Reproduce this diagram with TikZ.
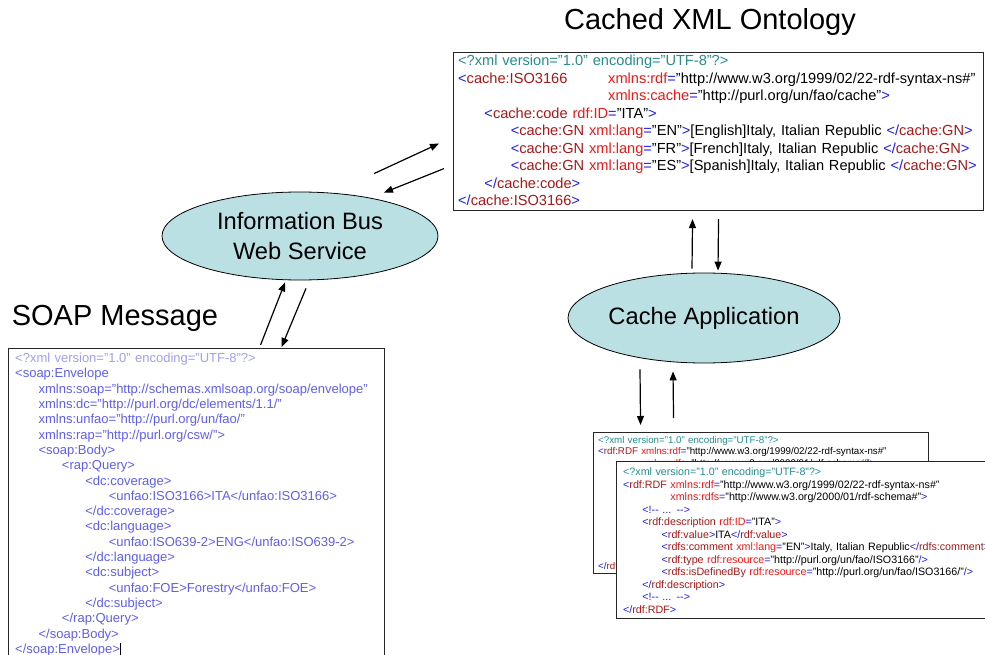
\documentclass[tikz,border=0pt]{standalone}
\usepackage{fontspec}
\setmainfont{Liberation Sans}
\usepackage{xcolor}
\usepackage{tikz}
\usetikzlibrary{shapes.geometric,positioning,arrows.meta}

\definecolor{declteal}{RGB}{40,140,140}
\definecolor{brblue}{RGB}{30,30,235}
\definecolor{tagmaroon}{RGB}{165,25,25}
\definecolor{attrred}{RGB}{235,25,25}
\definecolor{soaplight}{RGB}{160,160,235}
\definecolor{soapblue}{RGB}{95,95,235}
\definecolor{busfill}{RGB}{187,224,228}

% xml markup helpers
\newcommand{\tb}{\hspace*{1.8em}}
\newcommand{\xo}[1]{\textcolor{brblue}{<}\textcolor{tagmaroon}{#1}}
\newcommand{\xg}{\textcolor{brblue}{>}}
\newcommand{\xsg}{\textcolor{brblue}{/>}}
\newcommand{\xc}[1]{\textcolor{brblue}{</}\textcolor{tagmaroon}{#1}\textcolor{brblue}{>}}
\newcommand{\xa}[2]{\textcolor{attrred}{#1}\textcolor{brblue}{=}"#2"}
\newcommand{\xdecl}{\textcolor{declteal}{<?xml version="1.0" encoding="UTF-8"?>}}
\newcommand{\xcom}{\textcolor{brblue}{<!-{}- ... -{}->}}

\newcommand{\rdfdoc}{%
\xdecl\\
\xo{rdf:RDF} \xa{xmlns:rdf}{http://www.w3.org/1999/02/22-rdf-syntax-ns\#}\\
\phantom{<rdf:RDF }\xa{xmlns:rdfs}{http://www.w3.org/2000/01/rdf-schema\#}\xg\\
\tb\xcom\\
\tb\xo{rdf:description} \xa{rdf:ID}{ITA}\xg\\
\tb\tb\xo{rdf:value}\xg ITA\xc{rdf:value}\\
\tb\tb\xo{rdfs:comment} \xa{xml:lang}{EN}\xg Italy, Italian Republic\xc{rdfs:comment}\\
\tb\tb\xo{rdf:type} \xa{rdf:resource}{http://purl.org/un/fao/ISO3166}\xsg\\
\tb\tb\xo{rdfs:isDefinedBy} \xa{rdf:resource}{http://purl.org/un/fao/ISO3166/}\xsg\\
\tb\xc{rdf:description}\\
\tb\xcom\\
\xc{rdf:RDF}}

\begin{document}
\begin{tikzpicture}[x=1pt, y=-1pt,
  xmlbox/.style={draw=black!85, line width=1.1pt, fill=white, rectangle, inner sep=0pt, anchor=north west},
  xmltext/.style={anchor=north west, inner sep=0pt, align=left},
  app/.style={ellipse, draw, fill=busfill, line width=0.8pt, inner sep=0pt, align=center, font=\fontsize{23.7}{30}\selectfont},
  heading/.style={font=\fontsize{29}{34}\selectfont},
  flow/.style={-{Triangle[length=9pt,width=7pt]}, line width=1.2pt},
]
  \useasboundingbox (0,0) rectangle (985,655);

  % Cached ontology
  \node[heading] (ontotitle) at (710,22) {Cached XML Ontology};
  \node[xmlbox, minimum width=530, minimum height=158] (onto) at (453,52) {};
  \node[xmltext, text width=560, font=\fontsize{14.6}{17.5}\selectfont]
    (ontotext) at ([shift={(5,3)}]onto.north west) {%
\xdecl\\
\makebox[150pt][l]{\xo{cache:ISO3166}}\xa{xmlns:rdf}{http://www.w3.org/1999/02/22-rdf-syntax-ns\#}\\
\hspace*{150pt}\xa{xmlns:cache}{http://purl.org/un/fao/cache}\xg\\
\tb\xo{cache:code} \xa{rdf:ID}{ITA}\xg\\
\tb\tb\xo{cache:GN} \xa{xml:lang}{EN}\xg[English]Italy, Italian Republic \xc{cache:GN}\\
\tb\tb\xo{cache:GN} \xa{xml:lang}{FR}\xg[French]Italy, Italian Republic \xc{cache:GN}\\
\tb\tb\xo{cache:GN} \xa{xml:lang}{ES}\xg[Spanish]Italy, Italian Republic \xc{cache:GN}\\
\tb\xc{cache:code}\\
\xc{cache:ISO3166}};

  % Services
  \node[app, minimum width=276, minimum height=88] (bus) at (300,236) {Information Bus\\Web Service};
  \node[app, minimum width=272, minimum height=90] (cacheapp) at (704,318) {Cache Application};

  % SOAP message
  \node[heading] (soaptitle) at (115,318) {SOAP Message};
  \node[xmlbox, minimum width=376, minimum height=320] (soap) at (8,348) {};
  \node[xmltext, text width=420, text=soapblue, font=\fontsize{13}{15.3}\selectfont]
    (soaptext) at ([shift={(7,5)}]soap.north west) {%
\textcolor{soaplight}{<?xml version="1.0" encoding="UTF-8"?>}\\
<soap:Envelope\\
\tb xmlns:soap="http://schemas.xmlsoap.org/soap/envelope"\\
\tb xmlns:dc="http://purl.org/dc/elements/1.1/"\\
\tb xmlns:unfao="http://purl.org/un/fao/"\\
\tb xmlns:rap="http://purl.org/csw/">\\
\tb<soap:Body>\\
\tb\tb<rap:Query>\\
\tb\tb\tb<dc:coverage>\\
\tb\tb\tb\tb<unfao:ISO3166>ITA</unfao:ISO3166>\\
\tb\tb\tb</dc:coverage>\\
\tb\tb\tb<dc:language>\\
\tb\tb\tb\tb<unfao:ISO639-2>ENG</unfao:ISO639-2>\\
\tb\tb\tb</dc:language>\\
\tb\tb\tb<dc:subject>\\
\tb\tb\tb\tb<unfao:FOE>Forestry</unfao:FOE>\\
\tb\tb\tb</dc:subject>\\
\tb\tb</rap:Query>\\
\tb</soap:Body>\\
</soap:Envelope>\textcolor{black}{\rule[-2pt]{0.6pt}{12pt}}};

  % RDF documents
  \node[xmlbox, minimum width=335, minimum height=141] (rdfback) at (593,432) {};
  \node[xmltext, text width=420, font=\fontsize{9.75}{11.5}\selectfont]
    (rdfbacktext) at ([shift={(5,4)}]rdfback.north west) {\rdfdoc};
  \node[xmlbox, minimum width=390, minimum height=157] (rdffront) at (616,461) {};
  \node[xmltext, text width=440, font=\fontsize{10.7}{12.5}\selectfont]
    (rdffronttext) at ([shift={(7,7)}]rdffront.north west) {\rdfdoc};

  % Exchanges
  \draw[flow] ([shift={(74,-18)}]bus.north) -- ([shift={(-14,12)}]onto.west);
  \draw[flow] ([shift={(-9,37)}]onto.west) -- ([shift={(84,1)}]bus.north);
  \draw[flow] ([shift={(64,-3)}]soap.north) -- ([shift={(-15,2)}]bus.south);
  \draw[flow] ([shift={(6,8)}]bus.south) -- ([shift={(85,-1)}]soap.north);
  \draw[flow] ([shift={(-12,-4)}]cacheapp.north) -- ([shift={(-26,8)}]onto.south);
  \draw[flow] ([shift={(0,8)}]onto.south) -- ([shift={(14,-2)}]cacheapp.north);
  \draw[flow] ([shift={(-64,6)}]cacheapp.south) -- ([shift={(-120.5,-7)}]rdfback.north);
  \draw[flow] ([shift={(-87.5,-14)}]rdfback.north) -- ([shift={(-31,8)}]cacheapp.south);

\end{tikzpicture}
\end{document}
